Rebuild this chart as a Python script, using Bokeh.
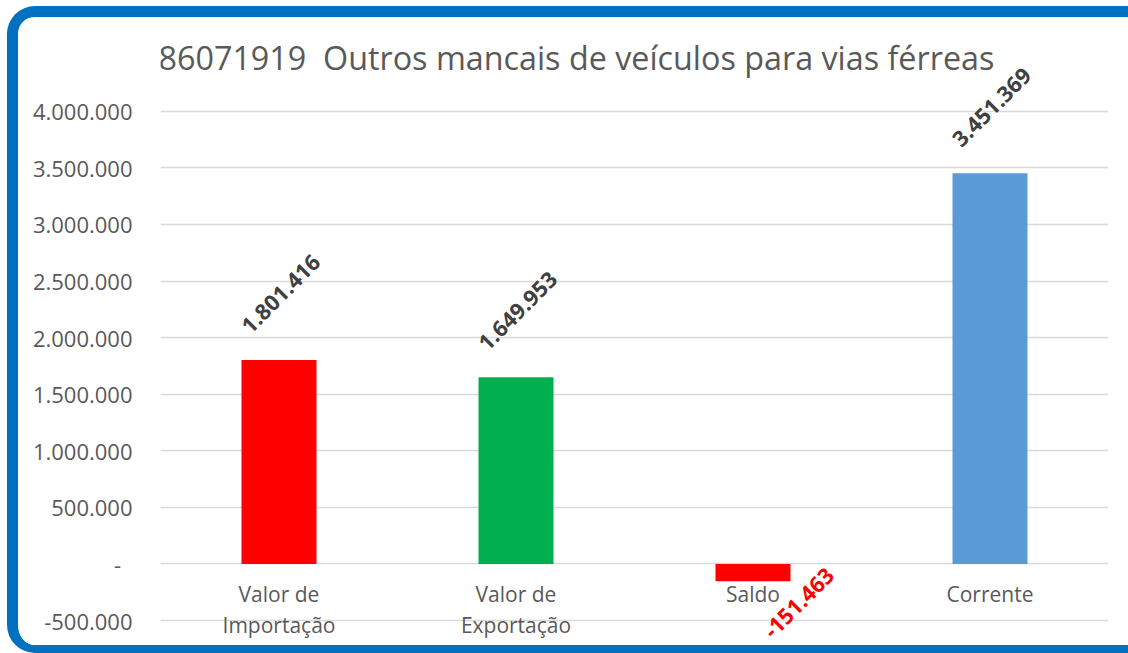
import math
from bokeh.plotting import figure
from bokeh.models import ColumnDataSource, Range1d, FactorRange, CustomJSTickFormatter, LabelSet, Label, FixedTicker
from bokeh.core.properties import value
from bokeh.embed import file_html
from bokeh.resources import INLINE

title_text = "86071919  Outros mancais de veículos para vias férreas"
categories = ["Valor de\nImportação", "Valor de\nExportação", "Saldo", "Corrente"]
values = [1801416, 1649953, -151463, 3451369]
bar_colors = ["#FF0000", "#00B050", "#FF0000", "#5B9BD5"]
label_colors = ["#404040", "#404040", "#FF0000", "#404040"]
y_ticks = [-500000, 0, 500000, 1000000, 1500000, 2000000, 2500000, 3000000, 3500000, 4000000]

FONT = "Open Sans"

labels = [f"{v:,}".replace(",", ".") for v in values]
x_off = [2 if v >= 0 else 46 for v in values]
y_off = [66 if v >= 0 else -22 for v in values]

src = ColumnDataSource(dict(cat=categories, val=values, color=bar_colors,
                            lcolor=label_colors, label=labels, xo=x_off, yo=y_off))

p = figure(width=1121, height=647, output_backend="svg", toolbar_location=None, tools="",
           title=None,
           x_range=FactorRange(factors=categories, range_padding=0),
           y_range=Range1d(-720000, 4713000))
p.styles = {
    "margin-left": "7px",
    "margin-top": "6px",
    "border-style": "solid",
    "border-color": "#0070C0",
    "border-width": "11px 0px 8px 11px",
    "border-radius": "28px 0px 0px 28px",
    "overflow": "hidden",
}

p.min_border_left = 142
p.min_border_right = 31
p.min_border_top = 13
p.min_border_bottom = 19
p.outline_line_color = None
p.background_fill_color = "white"
p.border_fill_color = "white"

p.vbar(x="cat", top="val", width=0.3165, fill_color="color", line_color=None, source=src)

p.add_layout(LabelSet(x="cat", y="val", text="label", source=src, angle=math.pi / 4,
                      text_align="center", text_baseline="middle",
                      x_offset="xo", y_offset="yo", text_color="lcolor",
                      text_font=value(FONT), text_font_style="bold", text_font_size="22px"))

# chart title, placed above the plotted values
p.add_layout(Label(x=1.755, y=4483000, text=title_text.replace("  ", "\u00a0 "),
                   text_align="center", text_baseline="alphabetic",
                   text_font=FONT, text_font_size="32.3px", text_font_style="normal",
                   text_color="#595959"))

p.xgrid.grid_line_color = None
p.ygrid.grid_line_color = "#D9D9D9"
p.ygrid.grid_line_width = 1.5

p.yaxis.ticker = FixedTicker(ticks=y_ticks)
p.yaxis.formatter = CustomJSTickFormatter(code=r"""
const v = Math.round(tick);
if (v === 0) return "-\u00a0\u00a0";
const s = Math.abs(v).toString().replace(/\B(?=(\d{3})+(?!\d))/g, ".");
return (v < 0 ? "-" : "") + s;
""")
p.yaxis.axis_line_color = None
p.yaxis.major_tick_line_color = None
p.yaxis.minor_tick_line_color = None
p.yaxis.major_tick_out = 0
p.yaxis.major_tick_in = 0
p.yaxis.major_label_standoff = 28
p.yaxis.major_label_text_font = FONT
p.yaxis.major_label_text_font_size = "22px"
p.yaxis.major_label_text_color = "#595959"

p.xaxis.fixed_location = 0
p.xaxis.axis_line_color = None
p.xaxis.major_tick_line_color = None
p.xaxis.minor_tick_line_color = None
p.xaxis.major_tick_out = 0
p.xaxis.major_tick_in = 0
p.xaxis.major_label_standoff = 16
p.xaxis.major_label_text_font = FONT
p.xaxis.major_label_text_font_size = "21px"
p.xaxis.major_label_text_color = "#595959"
p.xaxis.major_label_text_line_height = 1.1

open("out.html", "w").write(file_html(p, INLINE))
